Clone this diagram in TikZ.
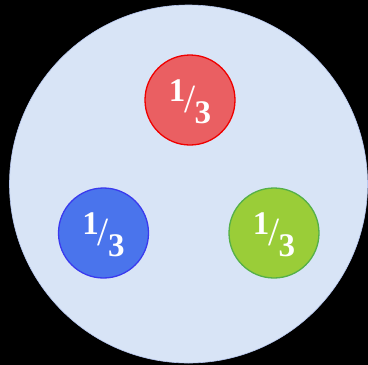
\documentclass[tikz,border=0pt]{standalone}
\usepackage{fontspec}
\setmainfont{Liberation Serif}
\definecolor{bgc}{HTML}{D8E4F6}
\definecolor{bgedge}{HTML}{B8C8F0}
\definecolor{redf}{HTML}{EA5F62}
\definecolor{rede}{HTML}{F00000}
\definecolor{bluef}{HTML}{4A74EC}
\definecolor{bluee}{HTML}{3A3AEE}
\definecolor{greenf}{HTML}{9ACD38}
\definecolor{greene}{HTML}{55B048}
\newcommand{\onethird}{\fontsize{33}{33}\selectfont\bfseries\raisebox{10pt}{1}\kern-1pt{\fontsize{40}{40}\selectfont\mdseries\raisebox{-1pt}{/}}\kern-1pt\raisebox{-12pt}{3}}
\tikzset{
  ball/.style={circle, minimum size=90pt, inner sep=0pt, line width=1.3pt},
  frac/.style={text=white, inner sep=0pt},
}
\begin{document}
\begin{tikzpicture}[x=1pt,y=-1pt]
\fill[black] (0,0) rectangle (368,365);
\useasboundingbox (0,0) rectangle (368,365);
\node[circle, minimum size=358pt, inner sep=0pt, fill=bgc, draw=bgedge, line width=0.6pt] (outer) at (188.5,184) {};
\node[ball, fill=redf, draw=rede] (red) at (190,100) {};
\node[ball, fill=bluef, draw=bluee] (blue) at (103.5,233) {};
\node[ball, fill=greenf, draw=greene] (green) at (274,233) {};
\node[frac] (tr) at ([yshift=-2pt]red) {\onethird};
\node[frac] (tb) at ([yshift=-2pt]blue) {\onethird};
\node[frac] (tg) at ([yshift=-2pt]green) {\onethird};
\end{tikzpicture}
\end{document}
